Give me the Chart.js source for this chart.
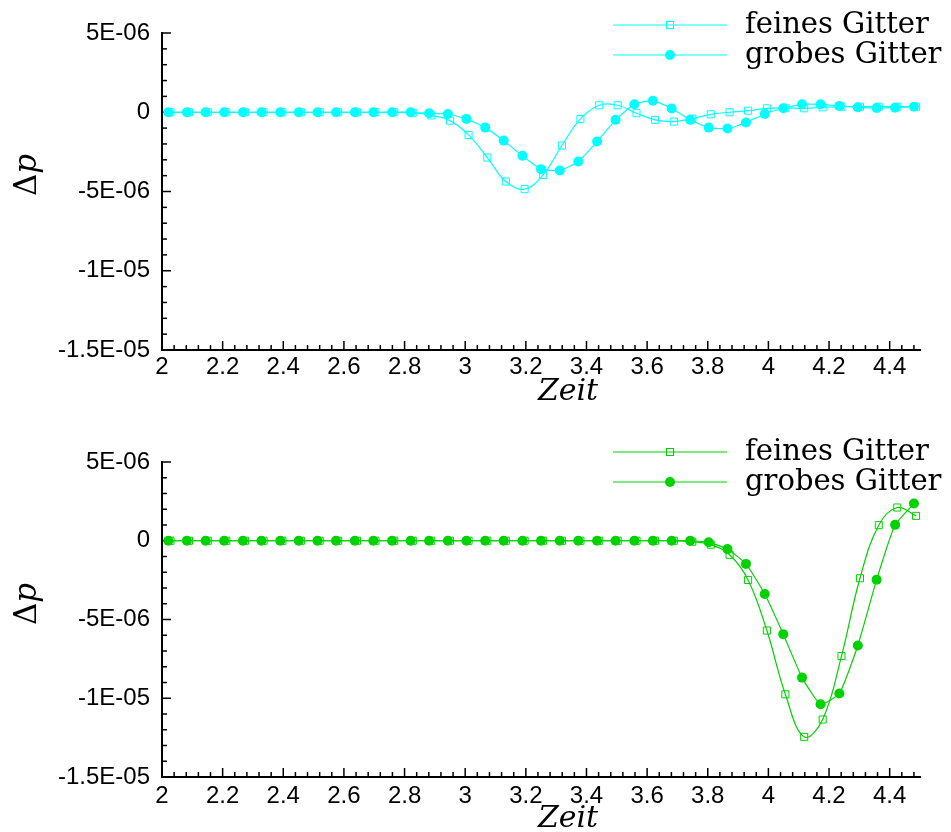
<!DOCTYPE html>
<html>
<head>
<meta charset="utf-8">
<script src="https://cdn.jsdelivr.net/npm/chart.js@4.4.0/dist/chart.umd.min.js"></script>
<style>
  html, body { margin: 0; padding: 0; background: #fff; }
  .box { position: absolute; left: 0; width: 951px; height: 416px; }
</style>
</head>
<body>
<div class="box" style="top:0"><canvas id="topChart"></canvas></div>
<div class="box" style="top:416px"><canvas id="bottomChart"></canvas></div>
<script>
// time samples (Zeit)
const timeCoarse = [2.021, 2.082, 2.144, 2.205, 2.267, 2.328, 2.390, 2.451, 2.513, 2.574,
  2.636, 2.697, 2.759, 2.820, 2.881, 2.943, 3.004, 3.066, 3.127, 3.189,
  3.250, 3.312, 3.373, 3.435, 3.496, 3.558, 3.619, 3.681, 3.742, 3.803,
  3.865, 3.926, 3.988, 4.049, 4.111, 4.172, 4.234, 4.295, 4.357, 4.418, 4.480];
const timeFine = [2.028, 2.089, 2.151, 2.212, 2.274, 2.335, 2.397, 2.458, 2.520, 2.581,
  2.643, 2.704, 2.766, 2.827, 2.888, 2.950, 3.011, 3.073, 3.134, 3.196,
  3.257, 3.319, 3.380, 3.442, 3.503, 3.565, 3.626, 3.688, 3.749, 3.810,
  3.872, 3.933, 3.995, 4.056, 4.118, 4.179, 4.241, 4.302, 4.364, 4.425, 4.487];

// delta p, in units of 1E-06
const topFine = [0, 0, 0, 0, 0, 0, 0, 0, 0, 0,
  0, 0, 0, -0.03, -0.2, -0.53, -1.43, -2.86, -4.37, -4.85,
  -3.95, -2.1, -0.42, 0.44, 0.44, -0.06, -0.48, -0.59, -0.4, -0.13,
  0, 0.1, 0.25, 0.28, 0.25, 0.31, 0.35, 0.35, 0.35, 0.35, 0.35];
const topCoarse = [0, 0, 0, 0, 0, 0, 0, 0, 0, 0,
  0, 0, 0, 0, -0.06, -0.11, -0.42, -0.97, -1.79, -2.75,
  -3.59, -3.68, -3.11, -1.85, -0.48, 0.5, 0.73, 0.24, -0.48, -0.97,
  -1.03, -0.65, -0.11, 0.25, 0.5, 0.5, 0.4, 0.31, 0.27, 0.29, 0.35];
const bottomFine = [0, 0, 0, 0, 0, 0, 0, 0, 0, 0,
  0, 0, 0, 0, 0, 0, 0, 0, 0, 0,
  0, 0, 0, 0, 0, 0, 0, 0, -0.06, -0.25,
  -0.89, -2.49, -5.7, -9.75, -12.45, -11.35, -7.32, -2.38, 0.99, 2.11, 1.58];
const bottomCoarse = [0, 0, 0, 0, 0, 0, 0, 0, 0, 0,
  0, 0, 0, 0, 0, 0, 0, 0, 0, 0,
  0, 0, 0, 0, 0, 0, 0, 0, 0, -0.1,
  -0.53, -1.47, -3.38, -5.93, -8.69, -10.38, -9.7, -6.65, -2.47, 1.01, 2.36];

const seriesNames = ['feines Gitter', 'grobes Gitter'];
const xTickValues = [2, 2.2, 2.4, 2.6, 2.8, 3, 3.2, 3.4, 3.6, 3.8, 4, 4.2, 4.4];
const xTickLabels = ['2', '2.2', '2.4', '2.6', '2.8', '3', '3.2', '3.4', '3.6', '3.8', '4', '4.2', '4.4'];
const yTickValues = [-15, -10, -5, 0, 5];
const yTickLabels = ['-1.5E-05', '-1E-05', '-5E-06', '0', '5E-06'];

Chart.defaults.font.family = '"Liberation Sans", Arial, sans-serif';
Chart.defaults.font.size = 24;
Chart.defaults.color = '#000';

// inward major/minor ticks, axis titles and the line+marker legend
const decor = {
  id: 'decor',
  beforeDatasetsDraw(chart) {
    const {ctx, chartArea: a, scales: {x, y}} = chart;
    ctx.save();
    ctx.strokeStyle = '#000';
    ctx.lineWidth = 1.5;
    for (let k = 0; ; k++) {
      const v = x.min + k * 0.04;
      if (v > x.max + 1e-9) break;
      const px = x.getPixelForValue(v);
      const len = k % 5 === 0 ? 9 : 5;
      ctx.beginPath(); ctx.moveTo(px, a.bottom); ctx.lineTo(px, a.bottom - len); ctx.stroke();
    }
    for (let k = 0; ; k++) {
      const v = y.min + k;
      if (v > y.max + 1e-9) break;
      const py = y.getPixelForValue(v);
      const len = k % 5 === 0 ? 9 : 5;
      ctx.beginPath(); ctx.moveTo(a.left, py); ctx.lineTo(a.left + len, py); ctx.stroke();
    }
    ctx.restore();
  },
  afterDraw(chart, args, opts) {
    const {ctx, chartArea: a} = chart;
    ctx.save();
    // legend
    chart.data.datasets.forEach((ds, i) => {
      const ly = opts.legendY + i * 30;
      const mx = (opts.legendX1 + opts.legendX2) / 2;
      ctx.strokeStyle = ds.borderColor;
      ctx.lineWidth = 1.2;
      ctx.beginPath(); ctx.moveTo(opts.legendX1, ly); ctx.lineTo(opts.legendX2, ly); ctx.stroke();
      if (ds.pointStyle === 'rect') {
        ctx.lineWidth = 1;
        ctx.strokeRect(mx - 3.5, ly - 3.5, 7, 7);
      } else {
        ctx.fillStyle = ds.pointBackgroundColor;
        ctx.beginPath(); ctx.arc(mx, ly, 5, 0, Math.PI * 2); ctx.fill();
      }
      ctx.fillStyle = '#000';
      ctx.font = '29px "DejaVu Serif", serif';
      ctx.textAlign = 'left';
      ctx.textBaseline = 'alphabetic';
      ctx.fillText(seriesNames[i], opts.legendX2 + 18, ly + 8);
    });
    // x title
    ctx.font = 'italic 30px "DejaVu Serif", serif';
    ctx.textAlign = 'center';
    ctx.fillText('Zeit', a.left + 406, a.bottom + 50);
    // y title
    ctx.translate(36, a.top + 142);
    ctx.rotate(-Math.PI / 2);
    ctx.font = '31px "DejaVu Serif", serif';
    const w1 = ctx.measureText('\u0394').width;
    ctx.font = 'italic 31px "DejaVu Serif", serif';
    const w2 = ctx.measureText('p').width;
    ctx.textAlign = 'left';
    ctx.font = '31px "DejaVu Serif", serif';
    ctx.fillText('\u0394', -(w1 + w2) / 2, 0);
    ctx.font = 'italic 31px "DejaVu Serif", serif';
    ctx.fillText('p', -(w1 + w2) / 2 + w1, 0);
    ctx.restore();
  }
};

function makeChart(id, fine, coarse, color, geo) {
  const fineData = timeFine.map((t, i) => ({x: t, y: fine[i]}));
  const coarseData = timeCoarse.map((t, i) => ({x: t, y: coarse[i]}));
  return new Chart(document.getElementById(id), {
    type: 'line',
    data: {
      datasets: [{
        label: seriesNames[0],
        data: fineData,
        borderColor: color,
        borderWidth: 1.2,
        pointStyle: 'rect',
        pointRadius: 5,
        pointBorderWidth: 1,
        pointBorderColor: color,
        pointBackgroundColor: 'rgba(0,0,0,0)',
        tension: 0.4,
        clip: false,
        order: 1
      }, {
        label: seriesNames[1],
        data: coarseData,
        borderColor: color,
        borderWidth: 1.2,
        pointStyle: 'circle',
        pointRadius: 5,
        pointBorderWidth: 0,
        pointBackgroundColor: color,
        tension: 0.15,
        clip: false,
        order: 0
      }]
    },
    options: {
      responsive: true,
      maintainAspectRatio: false,
      animation: false,
      layout: { padding: { top: geo.top, right: 31, left: 0, bottom: 0 } },
      plugins: {
        legend: { display: false },
        tooltip: { enabled: false },
        decor: { legendY: geo.legendY, legendX1: 613, legendX2: 727 }
      },
      scales: {
        x: {
          type: 'linear',
          min: 2,
          max: 4.5,
          grid: { display: false },
          border: { display: true, color: '#000', width: 2 },
          afterBuildTicks: s => { s.ticks = xTickValues.map(v => ({value: v})); },
          afterFit: s => { s.height = geo.axisH; },
          ticks: { padding: geo.xPad, maxRotation: 0, autoSkip: false, callback: (v, i) => xTickLabels[i] }
        },
        y: {
          type: 'linear',
          min: -15,
          max: 5,
          grid: { display: false },
          border: { display: true, color: '#000', width: 2 },
          afterBuildTicks: s => { s.ticks = yTickValues.map(v => ({value: v})); },
          afterFit: s => { s.width = 162; },
          ticks: { padding: 4, autoSkip: false, callback: (v, i) => yTickLabels[i] }
        }
      }
    },
    plugins: [decor]
  });
}

makeChart('topChart', topFine, topCoarse, '#00ffff', { top: 33, axisH: 66, legendY: 25, xPad: -5 });
makeChart('bottomChart', bottomFine, bottomCoarse, '#00d200', { top: 46, axisH: 55, legendY: 36, xPad: -3 });
</script>
</body>
</html>
